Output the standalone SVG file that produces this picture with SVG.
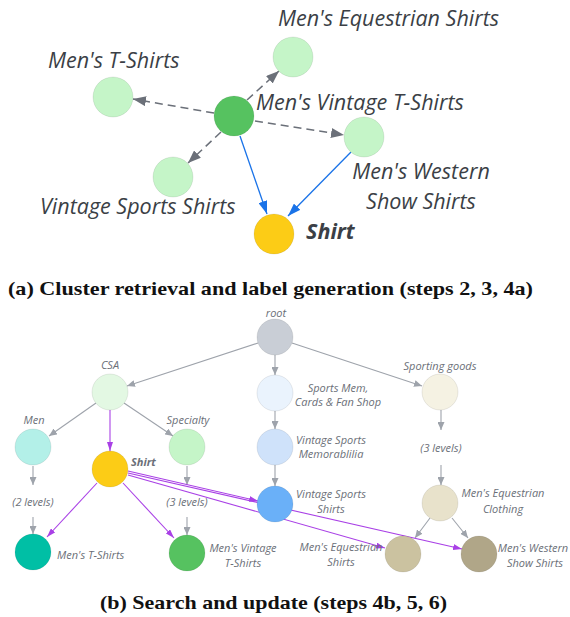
<svg xmlns="http://www.w3.org/2000/svg" width="570" height="617" viewBox="0 0 570 617">
<style>
.tl{font-family:"Open Sans","Noto Sans",sans-serif;font-style:italic;font-size:21.5px;fill:#3b3f46}
.tb{font-weight:bold}
.bl{font-family:"Open Sans","Noto Sans",sans-serif;font-style:italic;font-size:11px;fill:#6b6f78}
.cap{font-family:"Liberation Serif","DejaVu Serif",serif;font-weight:bold;font-size:19px;fill:#111}
.n{stroke:#000;stroke-opacity:0.1;stroke-width:0.8}
.dash{stroke:#6b7079;stroke-width:1.5;stroke-dasharray:8 5;fill:none}
.blue{stroke:#1a73e8;stroke-width:1.3;fill:none}
.ge{stroke:#9ea3ab;stroke-width:1.1;fill:none}
.pe{stroke:#a940e6;stroke-width:1.1;fill:none}
</style>
<defs>
<marker id="ag" viewBox="0 0 13 10" refX="13" refY="5" markerWidth="13" markerHeight="10" orient="auto" markerUnits="userSpaceOnUse"><path d="M0,0 L13,5 L0,10 z" fill="#6b7079"/></marker>
<marker id="ab" viewBox="0 0 13 9" refX="13" refY="4.5" markerWidth="13" markerHeight="9" orient="auto" markerUnits="userSpaceOnUse"><path d="M0,0 L13,4.5 L0,9 z" fill="#1a73e8"/></marker>
<marker id="as" viewBox="0 0 8 7" refX="8" refY="3.5" markerWidth="8" markerHeight="7" orient="auto" markerUnits="userSpaceOnUse"><path d="M0,0 L8,3.5 L0,7 z" fill="#9ea3ab"/></marker>
<marker id="ap" viewBox="0 0 9 6" refX="9" refY="3" markerWidth="9" markerHeight="6" orient="auto" markerUnits="userSpaceOnUse"><path d="M0,0 L9,3 L0,6 z" fill="#a940e6"/></marker>
</defs>

<!-- (a) connectors -->
<g id="connectors-a">
<line class="dash" x1="214" y1="113" x2="133" y2="99" marker-end="url(#ag)"/>
<line class="dash" x1="247" y1="100" x2="279" y2="71" marker-end="url(#ag)"/>
<line class="dash" x1="255" y1="121" x2="344" y2="135" marker-end="url(#ag)"/>
<line class="dash" x1="221" y1="132" x2="188" y2="163" marker-end="url(#ag)"/>
<line class="blue" x1="240" y1="136" x2="267" y2="214" marker-end="url(#ab)"/>
<line class="blue" x1="351" y1="152" x2="288" y2="216" marker-end="url(#ab)"/>
</g>

<!-- (a) nodes -->
<g id="a-mens-equestrian-shirts"><circle class="n" cx="293" cy="57" r="20" fill="#c5f5c8"/><text class="tl" x="278" y="26">Men's Equestrian Shirts</text></g>
<g id="a-mens-t-shirts"><circle class="n" cx="113" cy="97" r="20" fill="#c5f5c8"/><text class="tl" x="48" y="68">Men's T-Shirts</text></g>
<g id="a-mens-vintage-t-shirts"><circle class="n" cx="234" cy="116" r="20" fill="#56c260"/><text class="tl" x="256" y="110">Men's Vintage T-Shirts</text></g>
<g id="a-mens-western-show-shirts"><circle class="n" cx="364" cy="137" r="20" fill="#c5f5c8"/><text class="tl" text-anchor="middle" x="421" y="179">Men's Western</text><text class="tl" text-anchor="middle" x="421" y="209">Show Shirts</text></g>
<g id="a-vintage-sports-shirts"><circle class="n" cx="173" cy="177" r="20" fill="#c5f5c8"/><text class="tl" x="40" y="214">Vintage Sports Shirts</text></g>
<g id="a-shirt"><circle class="n" cx="274" cy="234" r="20" fill="#fccc16"/><text class="tl tb" x="306" y="239">Shirt</text></g>

<text class="cap" x="8" y="295" textLength="525" lengthAdjust="spacingAndGlyphs">(a) Cluster retrieval and label generation (steps 2, 3, 4a)</text>

<!-- (b) connectors -->
<g id="connectors-b">
<line class="ge" x1="258" y1="343" x2="127" y2="386" marker-end="url(#as)"/>
<line class="ge" x1="275" y1="355" x2="275" y2="375" marker-end="url(#as)"/>
<line class="ge" x1="292" y1="343" x2="422" y2="386" marker-end="url(#as)"/>
<line class="ge" x1="96" y1="403" x2="49" y2="436" marker-end="url(#as)"/>
<line class="ge" x1="124" y1="403" x2="173" y2="436" marker-end="url(#as)"/>
<line class="ge" x1="275" y1="411" x2="275" y2="429" marker-end="url(#as)"/>
<line class="ge" x1="275" y1="465" x2="275" y2="486" marker-end="url(#as)"/>
<line class="ge" x1="33" y1="466" x2="33" y2="485" marker-end="url(#as)"/>
<line class="ge" x1="33" y1="517" x2="33" y2="534" marker-end="url(#as)"/>
<line class="ge" x1="187" y1="466" x2="187" y2="485" marker-end="url(#as)"/>
<line class="ge" x1="187" y1="517" x2="187" y2="535" marker-end="url(#as)"/>
<line class="ge" x1="441" y1="410" x2="441" y2="430" marker-end="url(#as)"/>
<line class="ge" x1="441" y1="465" x2="441" y2="485" marker-end="url(#as)"/>
<line class="ge" x1="430" y1="518" x2="415" y2="538" marker-end="url(#as)"/>
<line class="ge" x1="452" y1="518" x2="468" y2="538" marker-end="url(#as)"/>
<line class="pe" x1="110" y1="410" x2="110" y2="451" marker-end="url(#ap)"/>
<line class="pe" x1="97" y1="483" x2="47" y2="537" marker-end="url(#ap)"/>
<line class="pe" x1="123" y1="483" x2="174" y2="538" marker-end="url(#ap)"/>
<line class="pe" x1="128" y1="471" x2="258" y2="501" marker-end="url(#ap)"/>
<line class="pe" x1="128" y1="473" x2="462" y2="549" marker-end="url(#ap)"/>
<line class="pe" x1="128" y1="475" x2="385" y2="548" marker-end="url(#ap)"/>
</g>

<!-- (b) nodes -->
<g id="b-root"><circle class="n" cx="275" cy="337" r="18" fill="#c9ced6"/><text class="bl" text-anchor="middle" x="276" y="317">root</text></g>
<g id="b-csa"><circle class="n" cx="110" cy="392" r="18" fill="#e3f8e3"/><text class="bl" text-anchor="middle" x="110" y="369">CSA</text></g>
<g id="b-men"><circle class="n" cx="33" cy="447" r="18" fill="#b3f0e8"/><text class="bl" text-anchor="middle" x="34" y="424">Men</text></g>
<g id="b-specialty"><circle class="n" cx="187" cy="447" r="18" fill="#c5f5c8"/><text class="bl" text-anchor="middle" x="188" y="424">Specialty</text></g>
<g id="b-shirt"><circle class="n" cx="110" cy="469" r="18" fill="#fccc16"/><text class="bl tb" x="131" y="466">Shirt</text></g>
<g id="b-2levels"><text class="bl" text-anchor="middle" x="33" y="506">(2 levels)</text></g>
<g id="b-3levels-a"><text class="bl" text-anchor="middle" x="187" y="506">(3 levels)</text></g>
<g id="b-mens-t-shirts"><circle class="n" cx="33" cy="552" r="18" fill="#00bfa5"/><text class="bl" x="57" y="559">Men's T-Shirts</text></g>
<g id="b-mens-vintage-t-shirts"><circle class="n" cx="187" cy="553" r="18" fill="#56c260"/><text class="bl" text-anchor="middle" x="243" y="552">Men's Vintage</text><text class="bl" text-anchor="middle" x="243" y="567">T-Shirts</text></g>
<g id="b-sports-mem"><circle class="n" cx="275" cy="393" r="18" fill="#eaf3fd"/><text class="bl" text-anchor="middle" x="338" y="392">Sports Mem,</text><text class="bl" text-anchor="middle" x="338" y="406">Cards &amp; Fan Shop</text></g>
<g id="b-vintage-sports-memorabilia"><circle class="n" cx="275" cy="447" r="18" fill="#cfe2fa"/><text class="bl" text-anchor="middle" x="331" y="444">Vintage Sports</text><text class="bl" text-anchor="middle" x="331" y="458">Memorablilia</text></g>
<g id="b-vintage-sports-shirts"><circle class="n" cx="275" cy="504" r="18" fill="#6ab0f8"/><text class="bl" text-anchor="middle" x="331" y="498">Vintage Sports</text><text class="bl" text-anchor="middle" x="331" y="513">Shirts</text></g>
<g id="b-sporting-goods"><circle class="n" cx="440" cy="392" r="18" fill="#f5f2e3"/><text class="bl" text-anchor="middle" x="440" y="370">Sporting goods</text></g>
<g id="b-3levels-b"><text class="bl" text-anchor="middle" x="441" y="452">(3 levels)</text></g>
<g id="b-mens-equestrian-clothing"><circle class="n" cx="440" cy="503" r="18" fill="#e8e2cb"/><text class="bl" text-anchor="middle" x="503" y="497">Men's Equestrian</text><text class="bl" text-anchor="middle" x="503" y="513">Clothing</text></g>
<g id="b-mens-equestrian-shirts"><circle class="n" cx="403" cy="554" r="18" fill="#cbc2a0"/><text class="bl" text-anchor="middle" x="341" y="551">Men's Equestrian</text><text class="bl" text-anchor="middle" x="341" y="566">Shirts</text></g>
<g id="b-mens-western-show-shirts"><circle class="n" cx="479" cy="554" r="18" fill="#b0a688"/><text class="bl" text-anchor="middle" x="533" y="552">Men's Western</text><text class="bl" text-anchor="middle" x="535" y="567">Show Shirts</text></g>

<text class="cap" x="100" y="609" textLength="347" lengthAdjust="spacingAndGlyphs">(b) Search and update (steps 4b, 5, 6)</text>
</svg>
